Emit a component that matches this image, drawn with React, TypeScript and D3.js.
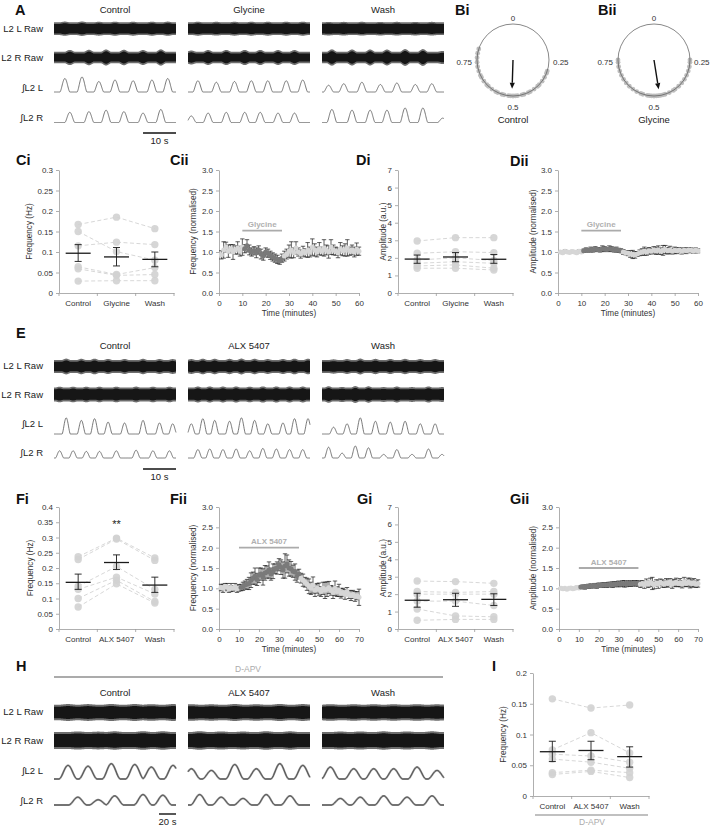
import React, { useEffect, useRef } from "react";
import * as d3 from "d3";

const FONT = "'Liberation Sans', Arial, Helvetica, sans-serif";
const W = 712;
const H = 829;

// ---------- recordings: bursts as [peak time (s), relative height] ----------
const aCtrlL = [[3.3, 0.9], [8.5, 1.0], [13.6, 0.7], [18.5, 0.8], [24, 0.75], [29.7, 0.8], [34.5, 0.9]];
const aCtrlR = [[4.8, 0.7], [10.6, 0.75], [15.8, 0.85], [21.2, 0.75], [27, 0.65], [32.4, 0.9]];
const aGlyL = [[3, 0.75], [8.6, 0.65], [14.1, 0.7], [19.2, 0.75], [24.2, 0.75], [29.8, 0.75], [34.8, 0.8]];
const aGlyR = [[1, 0.45], [6.1, 0.65], [11.6, 0.7], [17.2, 0.7], [21.9, 0.7], [27.3, 0.65], [32.3, 0.65]];
const aWashL = [[2, 0.45], [6.6, 0.55], [12.1, 0.65], [17.7, 0.5], [22.7, 0.6], [28.3, 0.5], [33.3, 0.55]];
const aWashR = [[3, 0.9], [9.1, 0.85], [14.6, 0.85], [19.7, 0.85], [25.2, 1.0], [30.6, 1.0], [36.6, 0.3]];

const eCtrlL = [[3.7, 0.95], [8.3, 0.8], [12.3, 0.9], [16.4, 0.7], [21.4, 0.65], [27, 0.8], [32, 0.65], [36, 0.6]];
const eCtrlR = [[1.7, 0.6], [5.8, 0.6], [9.8, 0.55], [13.8, 0.55], [18.9, 0.6], [24.9, 0.65], [30, 0.6], [35, 0.6]];
const eAlxL = [[1, 0.6], [4.5, 0.9], [8.1, 0.8], [12.6, 0.75], [16.2, 0.95], [20.2, 0.8], [24.2, 0.6], [28.8, 0.65], [32.3, 0.9], [36.4, 0.9]];
const eAlxR = [[3, 0.7], [6.6, 0.75], [10.6, 0.7], [14.6, 0.75], [18.7, 0.6], [22.7, 0.8], [26.8, 0.75], [30.8, 0.7], [34.8, 0.7]];
const eWashL = [[3.5, 0.4], [7.6, 0.6], [11.6, 0.95], [16.2, 0.75], [20.7, 0.7], [25.2, 0.75], [29.8, 0.6], [34.3, 0.6]];
const eWashR = [[2, 0.9], [6.1, 0.4], [10.1, 1.0], [14.1, 0.85], [18.7, 0.3], [22.7, 0.7], [27.3, 0.3], [32.3, 0.75], [36.4, 0.3]];

const hCtrlL = [[16.5, 0.8], [40, 0.75], [67.4, 0.9], [95, 0.85], [114.5, 0.7], [140, 0.8]];
const hCtrlR = [[28, 0.6], [52, 0.4], [71.4, 0.7], [104.7, 0.8], [128, 0.75]];
const hAlxL = [[4, 0.6], [27.5, 0.5], [55, 0.85], [80.4, 0.6], [108, 0.9], [135, 0.8]];
const hAlxR = [[13.7, 0.8], [39, 0.6], [64.7, 0.5], [92, 0.8], [120, 0.7]];
const hWashL = [[9.8, 0.7], [37.3, 0.6], [60.8, 0.6], [84.3, 0.6], [111.8, 0.7], [135.3, 0.5]];
const hWashR = [[21.6, 0.5], [45, 0.6], [72.6, 0.7], [100, 0.6], [129.4, 0.7]];

// ---------- circular phase plots ----------
const biPhases = [0.30, 0.31, 0.33, 0.35, 0.37, 0.38, 0.40, 0.42, 0.43, 0.45, 0.46, 0.48, 0.49, 0.50, 0.51, 0.52, 0.54, 0.55, 0.57, 0.58, 0.60, 0.62, 0.63, 0.65, 0.67, 0.68, 0.70, 0.72, 0.74, 0.76, 0.78, 0.80];
const biiPhases = [0.25, 0.26, 0.28, 0.30, 0.32, 0.34, 0.36, 0.38, 0.40, 0.41, 0.43, 0.45, 0.46, 0.47, 0.48, 0.49, 0.50, 0.51, 0.52, 0.53, 0.55, 0.56, 0.58, 0.60, 0.62, 0.64, 0.66, 0.68, 0.70, 0.72, 0.74, 0.75];
const biMean = [0.505, 0.8];
const biiMean = [0.475, 0.82];

// ---------- paired dot plots ----------
const catsGly = ["Control", "Glycine", "Wash"];
const catsAlx = ["Control", "ALX 5407", "Wash"];

const ciControl = [0.167, 0.150, 0.115, 0.064, 0.059, 0.029];
const ciGlycine = [0.185, 0.101, 0.124, 0.045, 0.043, 0.030];
const ciWash = [0.157, 0.080, 0.118, 0.062, 0.045, 0.030];
const ciMean = [0.097, 0.088, 0.082];
const ciLo = [0.077, 0.066, 0.064];
const ciHi = [0.118, 0.111, 0.100];

const diControl = [2.96, 2.26, 1.88, 1.69, 1.54, 1.41];
const diGlycine = [3.15, 2.35, 2.0, 1.78, 1.6, 1.41];
const diWash = [3.15, 2.3, 1.85, 1.69, 1.41, 1.31];
const diMean = [1.93, 2.05, 1.92];
const diLo = [1.69, 1.78, 1.69];
const diHi = [2.16, 2.3, 2.19];

const fiControl = [0.237, 0.228, 0.14, 0.13, 0.1, 0.072];
const fiAlx = [0.298, 0.295, 0.205, 0.17, 0.16, 0.148];
const fiWash = [0.233, 0.225, 0.13, 0.115, 0.09, 0.085];
const fiMean = [0.153, 0.218, 0.144];
const fiLo = [0.13, 0.195, 0.12];
const fiHi = [0.18, 0.243, 0.17];

const giControl = [2.75, 2.15, 2.0, 1.6, 1.15, 0.5];
const giAlx = [2.72, 2.1, 2.0, 1.6, 0.75, 0.55];
const giWash = [2.62, 2.15, 2.0, 1.35, 0.7, 0.55];
const giMean = [1.65, 1.68, 1.70];
const giLo = [1.25, 1.3, 1.35];
const giHi = [2.05, 2.05, 2.02];

const iControl = [0.158, 0.075, 0.068, 0.06, 0.038, 0.035];
const iAlx = [0.143, 0.103, 0.065, 0.055, 0.042, 0.04];
const iWash = [0.148, 0.07, 0.055, 0.045, 0.038, 0.03];
const iMean = [0.072, 0.074, 0.064];
const iLo = [0.056, 0.059, 0.047];
const iHi = [0.089, 0.089, 0.080];

// ---------- time courses (one value per minute) ----------
const ciiVals = [0.93, 1.05, 1.12, 1.02, 1.08, 1.0, 1.05, 1.1, 1.02, 1.12,
  1.08, 1.15, 1.05, 1.0, 1.03, 0.98, 1.05, 0.95, 0.9, 1.0,
  0.97, 0.92, 0.88, 0.85, 0.82, 0.78, 0.85, 0.9, 0.95, 1.02,
  1.05, 0.98, 1.1, 1.0, 0.95, 1.02, 0.98, 1.05, 1.0, 1.12,
  1.05, 1.0, 1.08, 1.02, 1.1, 1.05, 1.0, 1.12, 1.05, 1.02,
  0.98, 1.08, 1.03, 1.05, 1.1, 1.02, 1.05, 1.0, 1.07, 1.02];
const ciiSem = [0.1, 0.2, 0.12, 0.15, 0.1, 0.18, 0.1, 0.15, 0.12, 0.2,
  0.1, 0.15, 0.12, 0.1, 0.1, 0.12, 0.1, 0.12, 0.1, 0.1,
  0.1, 0.1, 0.1, 0.1, 0.1, 0.08, 0.1, 0.12, 0.12, 0.15,
  0.2, 0.12, 0.15, 0.1, 0.1, 0.12, 0.1, 0.18, 0.12, 0.2,
  0.15, 0.12, 0.15, 0.1, 0.2, 0.12, 0.15, 0.18, 0.12, 0.1,
  0.12, 0.15, 0.12, 0.15, 0.2, 0.1, 0.12, 0.12, 0.15, 0.1];

const diiVals = [1.0, 0.98, 1.02, 1.0, 0.99, 1.01, 1.0, 0.98, 1.02, 1.0,
  1.03, 1.05, 1.04, 1.06, 1.05, 1.07, 1.06, 1.05, 1.08, 1.07,
  1.06, 1.08, 1.07, 1.05, 1.06, 1.04, 1.03, 1.0, 0.98, 0.97,
  0.95, 0.94, 0.93, 0.95, 0.98, 1.0, 1.02, 1.0, 1.03, 1.02,
  1.05, 1.03, 1.05, 1.02, 1.04, 1.06, 1.03, 1.05, 1.02, 1.04,
  1.03, 1.05, 1.02, 1.04, 1.03, 1.05, 1.04, 1.02, 1.04, 1.03];
const diiSem = [0.02, 0.02, 0.03, 0.02, 0.02, 0.03, 0.02, 0.02, 0.03, 0.02,
  0.04, 0.05, 0.04, 0.06, 0.05, 0.06, 0.05, 0.05, 0.07, 0.06,
  0.05, 0.07, 0.06, 0.05, 0.06, 0.05, 0.05, 0.06, 0.05, 0.06,
  0.08, 0.1, 0.08, 0.06, 0.07, 0.08, 0.1, 0.08, 0.08, 0.07,
  0.08, 0.09, 0.1, 0.08, 0.12, 0.1, 0.08, 0.09, 0.07, 0.08,
  0.07, 0.06, 0.07, 0.06, 0.07, 0.05, 0.06, 0.05, 0.06, 0.05];

const fiiVals = [1.02, 1.0, 1.05, 1.03, 0.98, 1.02, 1.0, 1.04, 0.99, 1.01,
  1.02, 1.05, 1.08, 1.1, 1.12, 1.2, 1.25, 1.3, 1.22, 1.32,
  1.35, 1.28, 1.38, 1.4, 1.45, 1.35, 1.42, 1.48, 1.5, 1.58,
  1.52, 1.45, 1.55, 1.6, 1.5, 1.48, 1.42, 1.4, 1.3, 1.35,
  1.25, 1.2, 1.15, 1.1, 1.05, 1.0, 1.08, 0.95, 1.0, 0.98,
  0.92, 1.0, 0.95, 0.98, 1.02, 0.95, 0.9, 1.0, 0.92, 0.95,
  0.88, 0.9, 0.85, 0.92, 0.85, 0.82, 0.85, 0.8, 0.82, 0.78];
const fiiSem = [0.08, 0.1, 0.07, 0.09, 0.08, 0.1, 0.07, 0.08, 0.09, 0.08,
  0.08, 0.1, 0.1, 0.12, 0.15, 0.18, 0.15, 0.2, 0.15, 0.18,
  0.15, 0.2, 0.18, 0.15, 0.2, 0.15, 0.18, 0.12, 0.15, 0.15,
  0.18, 0.2, 0.3, 0.22, 0.2, 0.18, 0.15, 0.2, 0.15, 0.12,
  0.12, 0.15, 0.12, 0.15, 0.18, 0.15, 0.2, 0.15, 0.12, 0.15,
  0.12, 0.15, 0.2, 0.18, 0.15, 0.12, 0.15, 0.18, 0.12, 0.15,
  0.12, 0.1, 0.12, 0.1, 0.1, 0.12, 0.1, 0.12, 0.1, 0.2];

const giiVals = [1.0, 0.99, 1.0, 0.98, 1.0, 1.01, 0.99, 1.0, 1.02, 1.01,
  1.03, 1.04, 1.03, 1.05, 1.05, 1.06, 1.05, 1.07, 1.06, 1.08,
  1.07, 1.08, 1.09, 1.08, 1.09, 1.1, 1.09, 1.1, 1.1, 1.11,
  1.1, 1.12, 1.11, 1.1, 1.12, 1.11, 1.12, 1.13, 1.12, 1.12,
  1.1, 1.12, 1.08, 1.14, 1.1, 1.15, 1.12, 1.08, 1.13, 1.1,
  1.15, 1.12, 1.1, 1.14, 1.12, 1.16, 1.1, 1.13, 1.15, 1.12,
  1.14, 1.1, 1.16, 1.12, 1.15, 1.13, 1.12, 1.14, 1.1, 1.12];
const giiSem = [0.02, 0.02, 0.02, 0.02, 0.02, 0.02, 0.02, 0.02, 0.03, 0.03,
  0.04, 0.04, 0.05, 0.04, 0.05, 0.05, 0.04, 0.05, 0.06, 0.05,
  0.05, 0.06, 0.05, 0.06, 0.06, 0.05, 0.07, 0.06, 0.06, 0.07,
  0.06, 0.07, 0.08, 0.06, 0.07, 0.06, 0.07, 0.06, 0.07, 0.06,
  0.08, 0.07, 0.08, 0.09, 0.08, 0.1, 0.15, 0.09, 0.08, 0.1,
  0.08, 0.09, 0.08, 0.1, 0.09, 0.08, 0.1, 0.09, 0.1, 0.08,
  0.1, 0.09, 0.11, 0.08, 0.1, 0.12, 0.09, 0.1, 0.08, 0.09];

// ---------- helpers ----------
type Sel = d3.Selection<any, any, any, any>;

const text = (g: Sel, x: number, y: number, s: string, o: any = {}) =>
  g.append("text")
    .attr("x", x).attr("y", y).text(s)
    .attr("font-family", FONT)
    .attr("font-size", o.size ?? 8)
    .attr("font-weight", o.weight ?? "normal")
    .attr("fill", o.fill ?? "#333")
    .attr("text-anchor", o.anchor ?? "start");

const styleAxis = (a: Sel) => {
  a.attr("font-family", FONT).attr("font-size", 8);
  a.select(".domain").attr("stroke", "#9a9a9a").attr("stroke-width", 0.8);
  a.selectAll(".tick line").attr("stroke", "#9a9a9a").attr("stroke-width", 0.8);
  a.selectAll(".tick text").attr("fill", "#333");
};

const yTitle = (g: Sel, cx: number, cy: number, s: string) =>
  g.append("text")
    .attr("transform", `translate(${cx + 3},${cy}) rotate(-90)`)
    .attr("text-anchor", "middle")
    .attr("font-family", FONT).attr("font-size", 8.2).attr("fill", "#333")
    .text(s);

// burst envelope: each burst is a rounded bump of half-width hw around its peak
const burstSig = (bursts: number[][], hw: number, pw: number, t: number) => {
  let s = 0;
  for (const [tp, h] of bursts) {
    const u = Math.abs(t - tp) / hw;
    if (u < 1) s = Math.max(s, h * Math.pow(0.5 + 0.5 * Math.cos(Math.PI * u), pw));
  }
  return s;
};

function tracesBlock(svg: Sel, b: any) {
  const cols = [54, 188, 322];
  const g = svg.append("g");
  b.titles.forEach((t: string, i: number) => text(g, cols[i] + 61, b.titleY, t, { size: 9.5, anchor: "middle", fill: "#222" }));
  ["L2 L Raw", "L2 R Raw", "\u222BL2 L", "\u222BL2 R"].forEach((s, i) =>
    text(g, 43, b.labelY[i], s, { size: 9.5, anchor: "end", fill: "#222" }));

  const ts = d3.range(0, b.T + 1e-9, b.T / 400);
  b.conds.forEach((c: any, i: number) => {
    const x = d3.scaleLinear().domain([0, b.T]).range([cols[i], cols[i] + 122]);
    [[c.L, b.rawL], [c.R, b.rawR]].forEach(([bursts, r]: any) => {
      const y = d3.scaleLinear().domain([-1, 1]).range([r.cy + 1, r.cy - 1]);
      const env = (t: number) => r.base + r.gain * burstSig(bursts, b.hw, b.pw, t);
      const halo = d3.area<number>().x(t => x(t))
        .y0(t => y(-(env(t) + r.halo))).y1(t => y(env(t) + r.halo));
      const core = d3.area<number>().x(t => x(t))
        .y0(t => y(-env(t))).y1(t => y(env(t)));
      g.append("path").datum(ts).attr("d", halo).attr("fill", "#6e6e6e");
      g.append("path").datum(ts).attr("d", core).attr("fill", "#161616");
    });
    [[c.L, b.intL], [c.R, b.intR]].forEach(([bursts, r]: any) => {
      const y = d3.scaleLinear().domain([0, 1]).range([r.base, r.base - r.amp]);
      const line = d3.line<number>().x(t => x(t)).y(t => y(burstSig(bursts, b.hw, b.pw, t)));
      if (b.noisy) {
        g.append("path").datum(ts).attr("d", line).attr("fill", "none")
          .attr("stroke", "#9a9a9a").attr("stroke-width", 2).attr("stroke-linejoin", "round");
        g.append("path").datum(ts).attr("d", line).attr("fill", "none")
          .attr("stroke", "#333").attr("stroke-width", 0.8);
      } else {
        g.append("path").datum(ts).attr("d", line).attr("fill", "none")
          .attr("stroke", "#555").attr("stroke-width", 0.8);
      }
    });
  });
  // scale bar
  const xs = d3.scaleLinear().domain([0, b.T]).range([54, 176]);
  g.append("line").attr("x1", xs(b.T - b.bar)).attr("x2", xs(b.T)).attr("y1", b.barY).attr("y2", b.barY)
    .attr("stroke", "#111").attr("stroke-width", 1.4);
  text(g, (xs(b.T - b.bar) + xs(b.T)) / 2, b.barY + 11, `${b.bar} s`, { size: 9.5, anchor: "middle", fill: "#222" });
}

function phasePlot(svg: Sel, cx: number, cy: number, phases: number[], mean: number[], label: string) {
  const g = svg.append("g");
  const r = 36;
  const ang = d3.scaleLinear().domain([0, 1]).range([0, 2 * Math.PI]);
  const px = (p: number, rr: number) => cx + rr * Math.sin(ang(p));
  const py = (p: number, rr: number) => cy - rr * Math.cos(ang(p));
  g.selectAll("circle.ph").data(phases).join("circle").attr("class", "ph")
    .attr("cx", d => px(d, r)).attr("cy", d => py(d, r)).attr("r", 2.4)
    .attr("fill", "#bdbdbd");
  g.append("circle").attr("cx", cx).attr("cy", cy).attr("r", r)
    .attr("fill", "none").attr("stroke", "#555").attr("stroke-width", 0.7);
  const [mp, mr] = mean;
  const tipX = px(mp, r * mr), tipY = py(mp, r * mr);
  const a = ang(mp);
  const ux = Math.sin(a), uy = -Math.cos(a);
  const hl = 6, hw = 2.6;
  const bx = tipX - ux * hl, by = tipY - uy * hl;
  g.append("line").attr("x1", cx).attr("y1", cy).attr("x2", bx).attr("y2", by)
    .attr("stroke", "#111").attr("stroke-width", 1.4);
  g.append("path")
    .attr("d", `M${tipX},${tipY}L${bx - uy * hw},${by + ux * hw}L${bx + uy * hw},${by - ux * hw}Z`)
    .attr("fill", "#111");
  text(g, cx, cy - 39, "0", { anchor: "middle" });
  text(g, cx + 40, cy + 5, "0.25");
  text(g, cx - 41, cy + 5, "0.75", { anchor: "end" });
  text(g, cx, cy + 50, "0.5", { anchor: "middle" });
  text(g, cx, cy + 63, label, { size: 9.5, anchor: "middle", fill: "#222" });
}

function dotPanel(svg: Sel, p: any) {
  const g = svg.append("g");
  const x = d3.scaleBand<string>().domain(p.cats).range([p.left, p.right]);
  const y = d3.scaleLinear().domain([0, p.yMax]).range([p.bottom, p.top]);
  const ya = g.append("g").attr("transform", `translate(${p.left},0)`)
    .call(d3.axisLeft(y).tickValues(d3.range(0, p.yMax + p.yStep / 2, p.yStep))
      .tickFormat((d: any) => String(+(+d).toFixed(2))).tickSize(3).tickSizeOuter(0).tickPadding(3));
  styleAxis(ya);
  const xa = g.append("g").attr("transform", `translate(0,${p.bottom})`)
    .call(d3.axisBottom(x).tickSize(0).tickSizeOuter(0).tickPadding(7));
  styleAxis(xa);
  const bounds = d3.range(0, p.cats.length + 1).map(i => p.left + i * x.step());
  g.selectAll("line.bt").data(bounds).join("line").attr("class", "bt")
    .attr("x1", d => d).attr("x2", d => d).attr("y1", p.bottom).attr("y2", p.bottom + 3)
    .attr("stroke", "#9a9a9a").attr("stroke-width", 0.8);
  yTitle(g, p.titleX, (p.top + p.bottom) / 2, p.yTitle);

  const cx = (i: number) => (x(p.cats[i]) as number) + x.bandwidth() / 2;
  const series: number[][] = p.groups;
  const animals = series[0].map((_, k) => series.map(s => s[k]));
  const line = d3.line<number>().x((_, i) => cx(i)).y(d => y(d));
  g.selectAll("path.an").data(animals).join("path").attr("class", "an")
    .attr("d", line).attr("fill", "none").attr("stroke", "#cdcdcd")
    .attr("stroke-width", 0.8).attr("stroke-dasharray", "4,2.5");
  series.forEach((s, i) => {
    g.selectAll(`circle.d${i}`).data(s).join("circle").attr("class", `d${i}`)
      .attr("cx", cx(i)).attr("cy", d => y(d)).attr("r", 3.7)
      .attr("fill", "#d2d2d2").attr("fill-opacity", 0.9);
  });
  p.means.forEach((m: number, i: number) => {
    const c = cx(i);
    g.append("line").attr("x1", c - 12.5).attr("x2", c + 12.5).attr("y1", y(m)).attr("y2", y(m))
      .attr("stroke", "#1a1a1a").attr("stroke-width", 1.3);
    g.append("path")
      .attr("d", `M${c},${y(p.lo[i])}V${y(p.hi[i])}M${c - 3.5},${y(p.hi[i])}h7M${c - 3.5},${y(p.lo[i])}h7`)
      .attr("stroke", "#1a1a1a").attr("stroke-width", 0.9).attr("fill", "none");
  });
  return { x, y, cx };
}

function timePanel(svg: Sel, p: any) {
  const g = svg.append("g");
  const x = d3.scaleLinear().domain([0, p.xMax]).range([p.left, p.right]);
  const y = d3.scaleLinear().domain([0, 3]).range([p.bottom, p.top]);
  const ya = g.append("g").attr("transform", `translate(${p.left},0)`)
    .call(d3.axisLeft(y).tickValues(d3.range(0, 3.01, 0.5)).tickFormat(d3.format(".1f"))
      .tickSize(3).tickSizeOuter(0).tickPadding(3));
  styleAxis(ya);
  const xa = g.append("g").attr("transform", `translate(0,${p.bottom})`)
    .call(d3.axisBottom(x).tickValues(d3.range(0, p.xMax + 1, 10)).tickSize(3).tickSizeOuter(0).tickPadding(4));
  styleAxis(xa);
  text(g, (p.left + p.right) / 2, p.bottom + 23, "Time (minutes)", { size: 8.2, anchor: "middle" });
  yTitle(g, p.titleX, (p.top + p.bottom) / 2, p.yTitle);

  // drug bar
  g.append("line").attr("x1", x(p.drug[0])).attr("x2", x(p.drug[1]))
    .attr("y1", y(p.drugY)).attr("y2", y(p.drugY)).attr("stroke", "#ababab").attr("stroke-width", 1.8);
  text(g, (x(p.drug[0]) + x(p.drug[1])) / 2, y(p.drugY) - 3.5, p.drugLabel,
    { size: 8, anchor: "middle", weight: "bold", fill: "#b0b0b0" });

  const pts = p.vals.map((v: number, i: number) => ({ t: i + 1, v, e: p.sem[i] }));
  g.selectAll("path.eb").data(pts).join("path").attr("class", "eb")
    .attr("d", (d: any) => {
      const c = x(d.t), y1 = y(d.v + d.e), y0 = y(d.v - d.e);
      return `M${c},${y0}V${y1}M${c - 2.2},${y1}h4.4M${c - 2.2},${y0}h4.4`;
    })
    .attr("stroke", "#1a1a1a").attr("stroke-width", 0.7).attr("fill", "none");
  g.selectAll("circle.pt").data(pts).join("circle").attr("class", "pt")
    .attr("cx", (d: any) => x(d.t)).attr("cy", (d: any) => y(d.v)).attr("r", 2.5)
    .attr("fill", (d: any) => (d.t > p.drug[0] && d.t <= p.drug[1] ? "#7a7a7a" : "#d6d6d6"));
}

function draw(svg: Sel) {
  svg.append("rect").attr("width", W).attr("height", H).attr("fill", "#fff");

  // panel letters
  const letters: [string, number, number][] = [
    ["A", 15, 15], ["Bi", 455, 15], ["Bii", 598, 15],
    ["Ci", 16, 165], ["Cii", 170, 165], ["Di", 356, 165], ["Dii", 510, 166],
    ["E", 16, 338],
    ["Fi", 16, 504], ["Fii", 170, 504], ["Gi", 357, 504], ["Gii", 510, 504],
    ["H", 16, 671], ["I", 492, 671],
  ];
  letters.forEach(([s, x, y]) => text(svg, x, y, s, { size: 14.5, weight: "bold", fill: "#111" }));

  // A
  tracesBlock(svg, {
    titles: catsGly, titleY: 12.5, labelY: [31.5, 60.5, 90.5, 120.5],
    T: 37, hw: 1.5, pw: 0.8, noisy: false,
    rawL: { cy: 28.7, base: 4.8, gain: 0.8, halo: 1.6 },
    rawR: { cy: 57.5, base: 4, gain: 2.6, halo: 1.8 },
    intL: { base: 92, amp: 15 }, intR: { base: 122.5, amp: 14.5 },
    bar: 10, barY: 133,
    conds: [{ L: aCtrlL, R: aCtrlR }, { L: aGlyL, R: aGlyR }, { L: aWashL, R: aWashR }],
  });

  phasePlot(svg, 513, 60, biPhases, biMean, "Control");
  phasePlot(svg, 654, 60, biiPhases, biiMean, "Glycine");

  // C / D
  dotPanel(svg, {
    cats: catsGly, left: 59, right: 174, top: 170, bottom: 293, yMax: 0.3, yStep: 0.05,
    groups: [ciControl, ciGlycine, ciWash], means: ciMean, lo: ciLo, hi: ciHi,
    yTitle: "Frequency (Hz)", titleX: 29,
  });
  timePanel(svg, {
    left: 219, right: 359, top: 170, bottom: 293, xMax: 60, vals: ciiVals, sem: ciiSem,
    drug: [10, 27], drugY: 1.52, drugLabel: "Glycine", yTitle: "Frequency (normalised)", titleX: 193,
  });
  dotPanel(svg, {
    cats: catsGly, left: 398, right: 513, top: 170, bottom: 293, yMax: 7, yStep: 1,
    groups: [diControl, diGlycine, diWash], means: diMean, lo: diLo, hi: diHi,
    yTitle: "Amplitude (a.u.)", titleX: 383,
  });
  timePanel(svg, {
    left: 558, right: 698, top: 170, bottom: 293, xMax: 60, vals: diiVals, sem: diiSem,
    drug: [10, 27], drugY: 1.52, drugLabel: "Glycine", yTitle: "Amplitude (normalised)", titleX: 533,
  });

  // E
  tracesBlock(svg, {
    titles: catsAlx, titleY: 348.5, labelY: [368.5, 397.5, 426.5, 455.5],
    T: 37, hw: 1.25, pw: 0.8, noisy: false,
    rawL: { cy: 366.5, base: 4.8, gain: 1.4, halo: 1.8 },
    rawR: { cy: 394.5, base: 5.2, gain: 1.4, halo: 1.8 },
    intL: { base: 434, amp: 17 }, intR: { base: 458, amp: 12 },
    bar: 10, barY: 469,
    conds: [{ L: eCtrlL, R: eCtrlR }, { L: eAlxL, R: eAlxR }, { L: eWashL, R: eWashR }],
  });

  // F / G
  const fi = dotPanel(svg, {
    cats: catsAlx, left: 59, right: 174, top: 507, bottom: 629, yMax: 0.4, yStep: 0.05,
    groups: [fiControl, fiAlx, fiWash], means: fiMean, lo: fiLo, hi: fiHi,
    yTitle: "Frequency (Hz)", titleX: 30,
  });
  text(svg, fi.cx(1), 528, "**", { size: 11, anchor: "middle", fill: "#222" });
  timePanel(svg, {
    left: 219, right: 359, top: 507, bottom: 629, xMax: 70, vals: fiiVals, sem: fiiSem,
    drug: [10, 40], drugY: 2.0, drugLabel: "ALX 5407", yTitle: "Frequency (normalised)", titleX: 193,
  });
  dotPanel(svg, {
    cats: catsAlx, left: 398, right: 513, top: 507, bottom: 629, yMax: 7, yStep: 1,
    groups: [giControl, giAlx, giWash], means: giMean, lo: giLo, hi: giHi,
    yTitle: "Amplitude (a.u.)", titleX: 383,
  });
  timePanel(svg, {
    left: 559, right: 698, top: 507, bottom: 629, xMax: 70, vals: giiVals, sem: giiSem,
    drug: [10, 40], drugY: 1.5, drugLabel: "ALX 5407", yTitle: "Amplitude (normalised)", titleX: 533,
  });

  // H
  svg.append("line").attr("x1", 54).attr("x2", 443).attr("y1", 677).attr("y2", 677)
    .attr("stroke", "#ababab").attr("stroke-width", 1.8);
  text(svg, 248, 672, "D-APV", { size: 8.5, anchor: "middle", fill: "#ababab" });
  tracesBlock(svg, {
    titles: catsAlx, titleY: 695.5, labelY: [714.5, 743.5, 773.5, 803.5],
    T: 143.5, hw: 11, pw: 1, noisy: true,
    rawL: { cy: 712.5, base: 5.8, gain: 0.8, halo: 2 },
    rawR: { cy: 740.5, base: 6.5, gain: 1, halo: 2 },
    intL: { base: 779, amp: 17 }, intR: { base: 805, amp: 13 },
    bar: 20, barY: 814,
    conds: [{ L: hCtrlL, R: hCtrlR }, { L: hAlxL, R: hAlxR }, { L: hWashL, R: hWashR }],
  });

  // I
  dotPanel(svg, {
    cats: catsAlx, left: 533, right: 649, top: 673, bottom: 796, yMax: 0.2, yStep: 0.05,
    groups: [iControl, iAlx, iWash], means: iMean, lo: iLo, hi: iHi,
    yTitle: "Frequency (Hz)", titleX: 503,
  });
  svg.append("line").attr("x1", 535).attr("x2", 648).attr("y1", 815).attr("y2", 815)
    .attr("stroke", "#ababab").attr("stroke-width", 1.5);
  text(svg, 592, 825, "D-APV", { size: 8.5, anchor: "middle", fill: "#ababab" });
}

export default function App() {
  const ref = useRef<SVGSVGElement>(null);
  useEffect(() => {
    const svg = d3.select(ref.current);
    svg.selectAll("*").remove();
    draw(svg as any);
  }, []);
  return (
    <svg
      ref={ref}
      width={W}
      height={H}
      style={{ position: "absolute", left: 0, top: 0, display: "block" }}
    />
  );
}
